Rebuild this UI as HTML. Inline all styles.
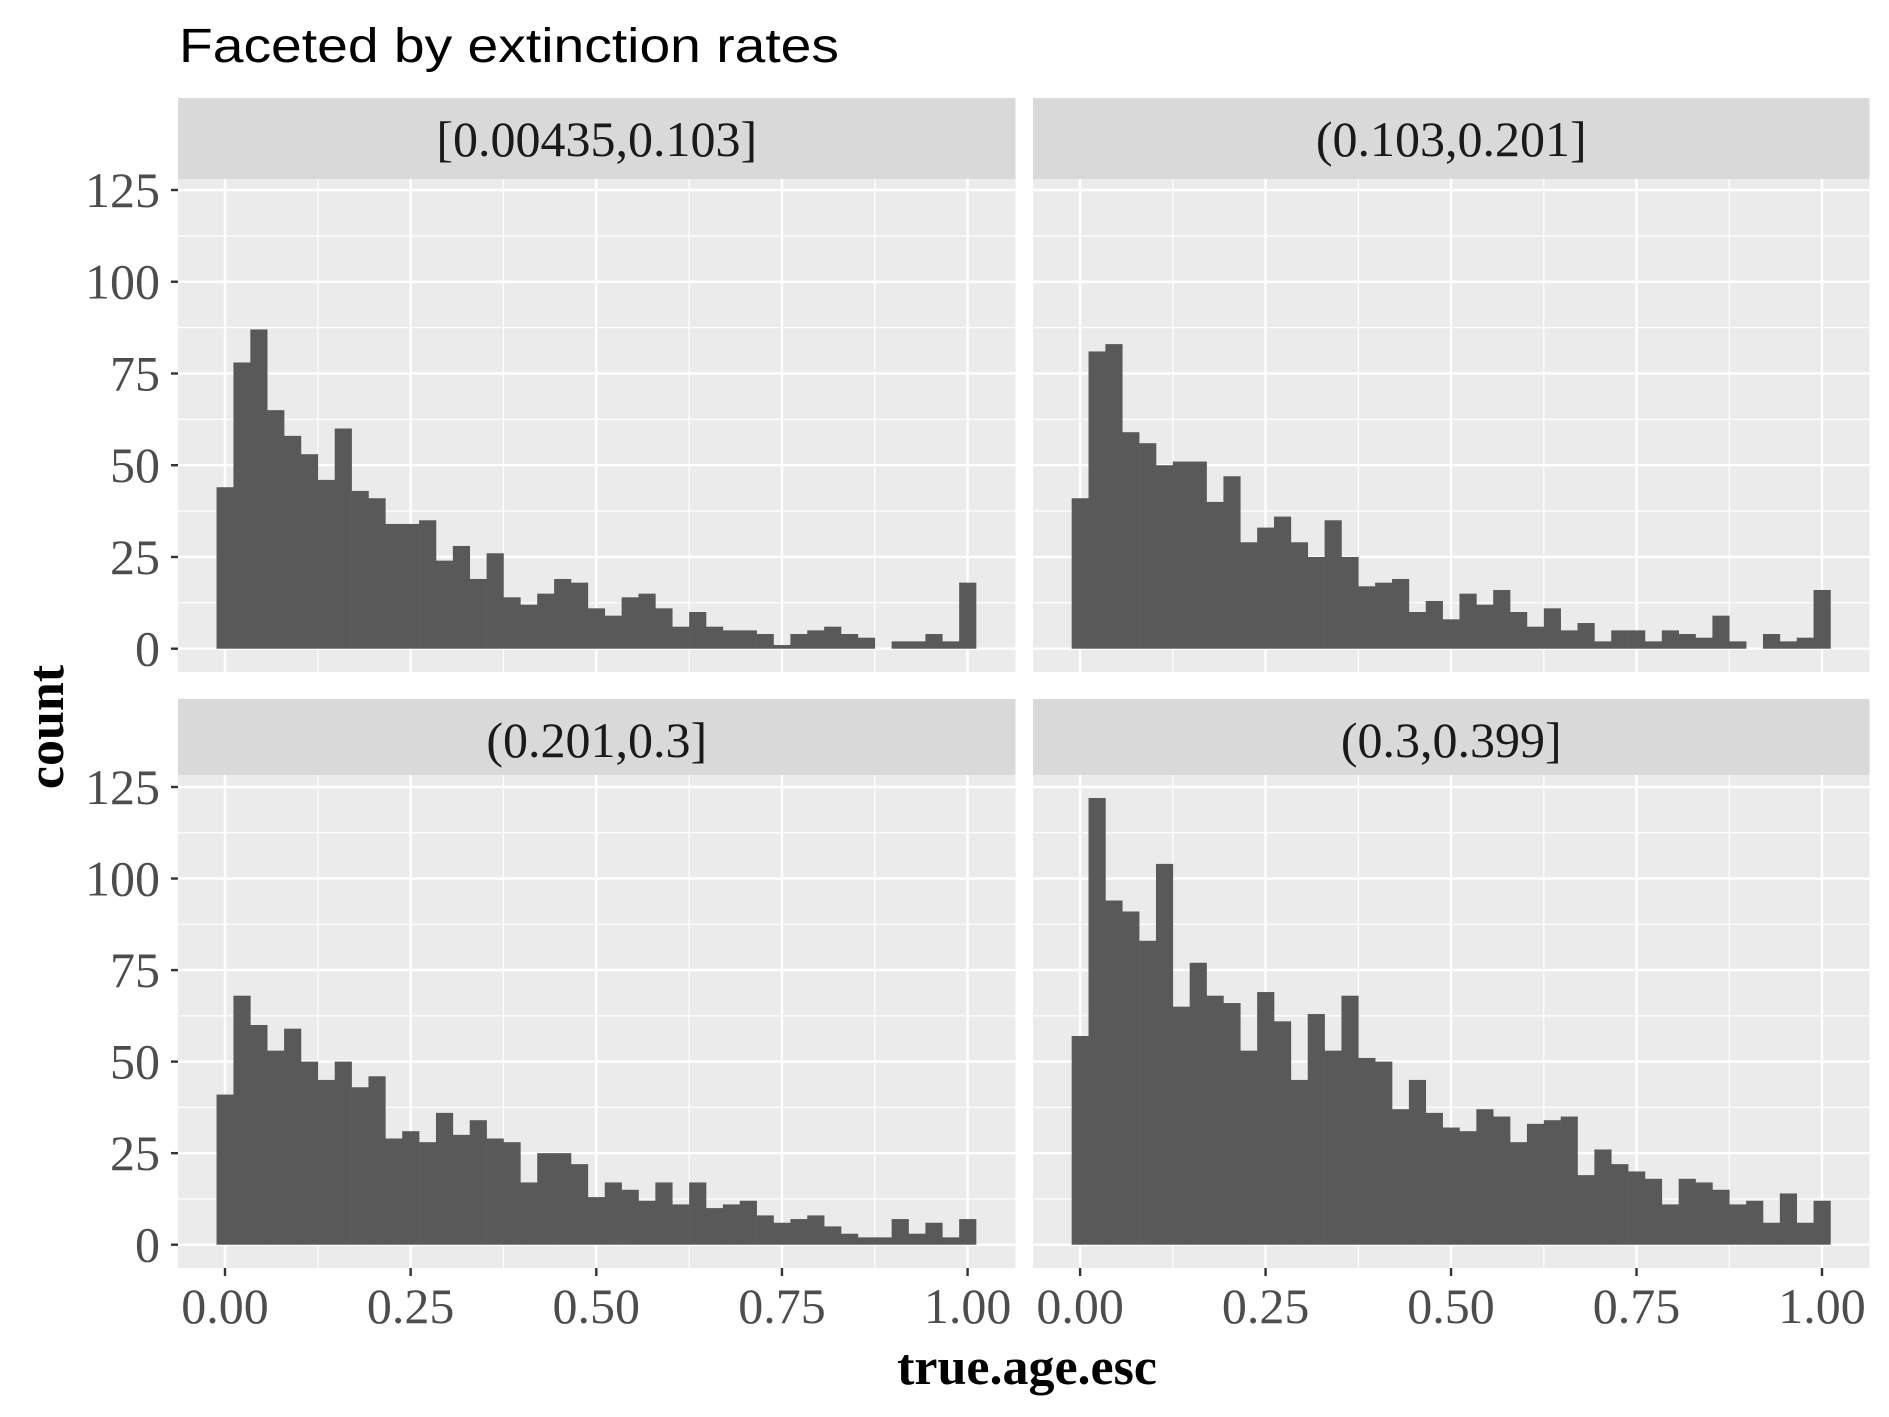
<!DOCTYPE html>
<html><head><meta charset="utf-8"><style>
html,body{margin:0;padding:0;background:#fff;}
svg{display:block;}
</style></head><body>
<svg id="chart" width="1889" height="1417" viewBox="0 0 1889 1417" xmlns="http://www.w3.org/2000/svg">
<rect x="0" y="0" width="1889" height="1417" fill="#fff"/>
<text x="179" y="62" font-family="Liberation Sans, sans-serif" font-size="48" fill="#000" textLength="660" lengthAdjust="spacingAndGlyphs">Faceted by extinction rates</text>
<text x="1027" y="1384" text-anchor="middle" font-family="Liberation Serif, serif" font-weight="bold" font-size="52" fill="#000">true.age.esc</text>
<text transform="translate(63,727) rotate(-90)" text-anchor="middle" font-family="Liberation Serif, serif" font-weight="bold" font-size="52" fill="#000">count</text>
<g id="panels"></g>
</svg>
<script>
const facetLabels = ["[0.00435,0.103]", "(0.103,0.201]", "(0.201,0.3]", "(0.3,0.399]"];
const counts1 = [44,78,87,65,58,53,46,60,43,41,34,34,35,24,28,19,26,14,12,15,19,18,11,9,14,15,11,6,10,6,5,5,4,1,4,5,6,4,3,0,2,2,4,2,18];
const counts2 = [41,81,83,59,56,50,51,51,40,47,29,33,36,29,25,35,25,17,18,19,10,13,8,15,12,16,10,6,11,5,7,2,5,5,2,5,4,3,9,2,0,4,2,3,16];
const counts3 = [41,68,60,53,59,50,45,50,43,46,29,31,28,36,30,34,29,28,17,25,25,22,13,17,15,12,17,11,17,10,11,12,8,6,7,8,5,3,2,2,7,3,6,2,7];
const counts4 = [57,122,94,91,83,104,65,77,68,66,53,69,61,45,63,53,68,51,50,37,45,36,32,31,37,35,28,33,34,35,19,26,22,20,18,11,18,17,15,11,12,6,14,6,12];
const xTicks = [0, 0.25, 0.5, 0.75, 1];
const xTickLabels = ["0.00", "0.25", "0.50", "0.75", "1.00"];
const yTicks = [0, 25, 50, 75, 100, 125];
const yTickLabels = ["0", "25", "50", "75", "100", "125"];
const nBins = 45;

const NS = "http://www.w3.org/2000/svg";
const root = document.getElementById("panels");
function mk(tag, attrs, parent) {
  const e = document.createElementNS(NS, tag);
  for (const k in attrs) e.setAttribute(k, attrs[k]);
  parent.appendChild(e);
  return e;
}
const allCounts = [counts1, counts2, counts3, counts4];
const layout = [
  {px0:178, px1:1015.5, x0:225, x1:967.6, stripTop:98, top:179, bottom:672, y0:648.7, yTop:190, yLabels:true, xLabels:false},
  {px0:1033, px1:1869.5, x0:1080.1, x1:1822, stripTop:98, top:179, bottom:672, y0:648.7, yTop:190, yLabels:false, xLabels:false},
  {px0:178, px1:1015.5, x0:225, x1:967.6, stripTop:699, top:775, bottom:1268, y0:1244.7, yTop:787, yLabels:true, xLabels:true},
  {px0:1033, px1:1869.5, x0:1080.1, x1:1822, stripTop:699, top:775, bottom:1268, y0:1244.7, yTop:787, yLabels:false, xLabels:true}
];
layout.forEach((L, p) => {
  const g = mk("g", {}, root);
  
  
  const xs = v => L.x0 + (L.x1 - L.x0) * v;
  const ys = v => L.y0 - (L.y0 - L.yTop) * v / 125;
  const strip = mk("rect", {x:L.px0, y:L.stripTop, width:L.px1-L.px0, height:L.top-L.stripTop, fill:"#D9D9D9"}, g);
  
  
  const st = mk("text", {x:(L.px0+L.px1)/2, y:L.stripTop+58, "text-anchor":"middle", "font-family":"Liberation Serif, serif", "font-size":"50", fill:"#1A1A1A"}, g);
  st.textContent = facetLabels[p];
  
  
  const bg = mk("rect", {x:L.px0, y:L.top, width:L.px1-L.px0, height:L.bottom-L.top, fill:"#EBEBEB"}, g);
  
  
  for (let v = 12.5; v < 140; v += 25) {
    const y = ys(v); if (y < L.top) continue;
    mk("line", {x1:L.px0, x2:L.px1, y1:y, y2:y, stroke:"#fff", "stroke-width":"1.2"}, g);
  }
  for (let v = 0.125; v < 1; v += 0.25) {
    mk("line", {x1:xs(v), x2:xs(v), y1:L.top, y2:L.bottom, stroke:"#fff", "stroke-width":"1.2"}, g);
  }
  yTicks.forEach(v => { const y = ys(v);
    mk("line", {x1:L.px0, x2:L.px1, y1:y, y2:y, stroke:"#fff", "stroke-width":"2.4"}, g); });
  xTicks.forEach(v => { const x = xs(v);
    mk("line", {x1:x, x2:x, y1:L.top, y2:L.bottom, stroke:"#fff", "stroke-width":"2.4"}, g); });
  const w = 1 / (nBins - 1);
  allCounts[p].forEach((c, i) => {
    if (c <= 0) return;
    const a = xs(i * w - w / 2), b = xs(i * w + w / 2);
    const r = mk("rect", {x:a, y:ys(c), width:b-a+0.3, height:L.y0-ys(c), fill:"#595959"}, g);
    
    
  });
  if (L.yLabels) {
    yTicks.forEach((v, i) => { const y = ys(v);
      mk("line", {x1:L.px0-7, x2:L.px0, y1:y, y2:y, stroke:"#333", "stroke-width":"2.4"}, g);
      const t = mk("text", {x:L.px0-18, y:y+17, "text-anchor":"end", "font-family":"Liberation Serif, serif", "font-size":"50", fill:"#4D4D4D"}, g);
      t.textContent = yTickLabels[i];
      
      
    });
  }
  if (L.xLabels) {
    xTicks.forEach((v, i) => { const x = xs(v);
      mk("line", {x1:x, x2:x, y1:L.bottom, y2:L.bottom+8, stroke:"#333", "stroke-width":"2.4"}, g);
      const t = mk("text", {x:x, y:1323, "text-anchor":"middle", "font-family":"Liberation Serif, serif", "font-size":"50", fill:"#4D4D4D"}, g);
      t.textContent = xTickLabels[i];
      
      
    });
  }
});
</script>
</body></html>
